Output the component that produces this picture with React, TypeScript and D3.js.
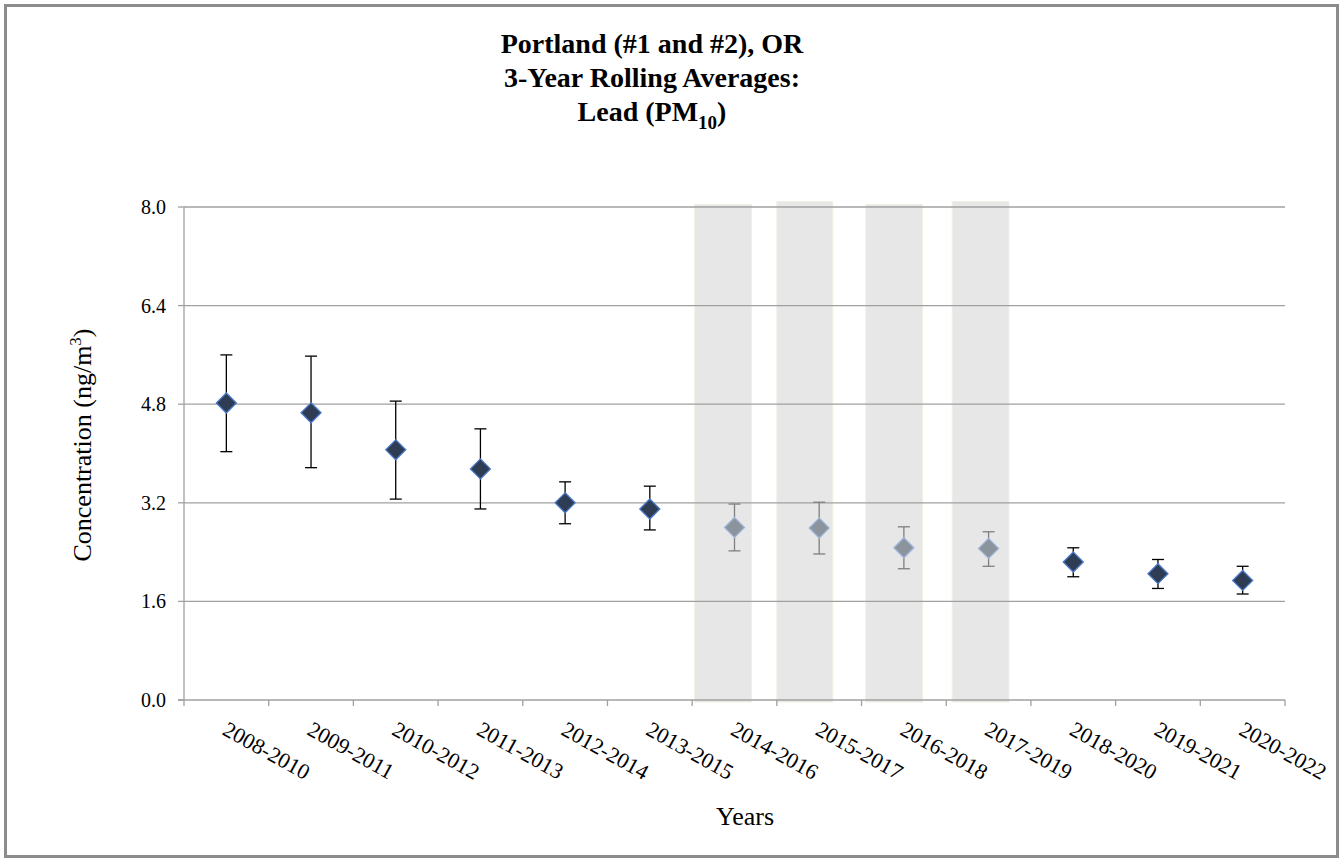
import React from "react";
import * as d3 from "d3";

const categories = [
  "2008-2010", "2009-2011", "2010-2012", "2011-2013", "2012-2014", "2013-2015", "2014-2016",
  "2015-2017", "2016-2018", "2017-2019", "2018-2020", "2019-2021", "2020-2022",
];
const means = [4.82, 4.66, 4.06, 3.75, 3.20, 3.10, 2.80, 2.79, 2.47, 2.46, 2.24, 2.05, 1.94];
const upper = [5.60, 5.58, 4.85, 4.40, 3.54, 3.47, 3.18, 3.21, 2.81, 2.73, 2.47, 2.28, 2.17];
const lower = [4.03, 3.77, 3.26, 3.10, 2.86, 2.76, 2.42, 2.37, 2.13, 2.17, 2.00, 1.81, 1.72];
const greyed = [false, false, false, false, false, false, true, true, true, true, false, false, false];
const yTicks = [0, 1.6, 3.2, 4.8, 6.4, 8.0];
// shaded bands in category-index units
const bandStart = [6.03, 7.0, 8.05, 9.07];
const bandEnd = [6.7, 7.66, 8.72, 9.74];
const bandTop = [8.04, 8.09, 8.04, 8.09];

const W = 1340, H = 859;
const left = 184, right = 1285, top = 207, bottom = 700;

export default function App() {
  const xi = d3.scaleLinear().domain([0, categories.length]).range([left, right]);
  const xc = (i: number) => xi(i + 0.5);
  const y = d3.scaleLinear().domain([0, 8]).range([bottom, top]);
  const font = "Liberation Serif, DejaVu Serif, serif";
  const dsz = 10;
  return (
    <svg width={W} height={H} style={{ position: "absolute", left: 0, top: 0, background: "#fff", fontFamily: font }}>
      <rect x={5.5} y={5.5} width={1332} height={851} fill="#fff" stroke="#8c8c8c" strokeWidth={3} />
      <g fontWeight="bold" fontSize={28} textAnchor="middle" style={{ fontFamily: font }}>
        <text x={652} y={53}>Portland (#1 and #2), OR</text>
        <text x={652} y={87}>3-Year Rolling Averages:</text>
        <text x={652} y={121}>Lead (PM<tspan fontSize={19} dy={8}>10</tspan><tspan dy={-8}>)</tspan></text>
      </g>
      {bandStart.map((b, i) => (
        <rect key={"b" + i} x={xi(b)} y={y(bandTop[i])} width={xi(bandEnd[i]) - xi(b)} height={bottom + 2 - y(bandTop[i])}
          fill="#e7e7e7" stroke="#f0efe4" strokeWidth={1} />
      ))}
      {yTicks.filter(t => t > 0).map(t => (
        <line key={"g" + t} x1={left} x2={right} y1={y(t)} y2={y(t)} stroke="#a0a0a0" strokeWidth={1.3} />
      ))}
      <line x1={left} x2={left} y1={top} y2={bottom} stroke="#a0a0a0" strokeWidth={1.3} />
      <line x1={left - 6} x2={right} y1={bottom} y2={bottom} stroke="#a0a0a0" strokeWidth={1.3} />
      {d3.range(categories.length + 1).map(i => (
        <line key={"t" + i} x1={xi(i)} x2={xi(i)} y1={bottom} y2={bottom + 6} stroke="#a0a0a0" strokeWidth={1.3} />
      ))}
      {yTicks.map(t => (
        <line key={"yt" + t} x1={left - 6} x2={left} y1={y(t)} y2={y(t)} stroke="#a0a0a0" strokeWidth={1.3} />
      ))}
      <g fontSize={20} textAnchor="end" style={{ fontFamily: font }}>
        {yTicks.map(t => (
          <text key={"yl" + t} x={166} y={y(t) + 7}>{t.toFixed(1)}</text>
        ))}
      </g>
      <g fontSize={22} style={{ fontFamily: font }}>
        {categories.map((c, i) => (
          <text key={"xl" + i} transform={`translate(${xc(i) - 5},${bottom + 34}) rotate(29)`}>{c}</text>
        ))}
      </g>
      {categories.map((c, i) => {
        const cx = xc(i);
        const col = greyed[i] ? "#7f7f7f" : "#000";
        return (
          <g key={"e" + i} stroke={col} strokeWidth={1.3}>
            <line x1={cx} x2={cx} y1={y(upper[i])} y2={y(lower[i])} />
            <line x1={cx - 6} x2={cx + 6} y1={y(upper[i])} y2={y(upper[i])} />
            <line x1={cx - 6} x2={cx + 6} y1={y(lower[i])} y2={y(lower[i])} />
          </g>
        );
      })}
      {categories.map((c, i) => {
        const cx = xc(i), cy = y(means[i]);
        const pts = `${cx},${cy - dsz} ${cx + dsz},${cy} ${cx},${cy + dsz} ${cx - dsz},${cy}`;
        return (
          <polygon key={"m" + i} points={pts}
            fill={greyed[i] ? "#8b939c" : "#2f3d54"}
            stroke={greyed[i] ? "#9fb5da" : "#4a78c8"} strokeWidth={1.3} />
        );
      })}
      <text transform={`translate(91,445) rotate(-90)`} textAnchor="middle" fontSize={26} style={{ fontFamily: font }}>
        Concentration (ng/m<tspan fontSize={17} dy={-10}>3</tspan><tspan dy={10}>)</tspan>
      </text>
      <text x={745} y={825} textAnchor="middle" fontSize={26} style={{ fontFamily: font }}>Years</text>
    </svg>
  );
}
